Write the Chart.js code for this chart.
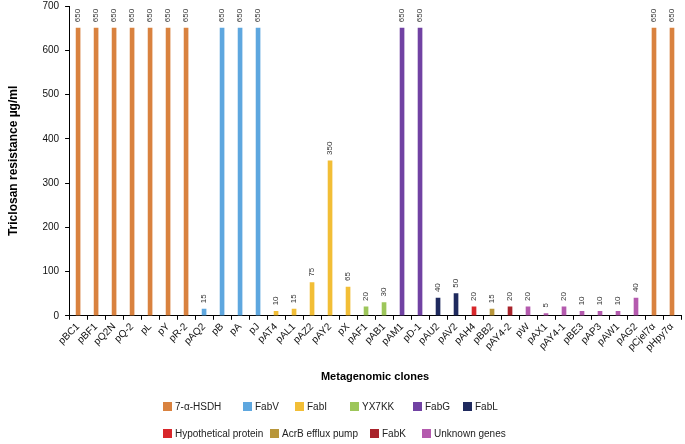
<!DOCTYPE html>
<html>
<head>
<meta charset="utf-8">
<script src="https://cdn.jsdelivr.net/npm/chart.js@4.4.1/dist/chart.umd.min.js"></script>
<style>
html,body{margin:0;padding:0;background:#fff;overflow:hidden;}
#wrap{position:relative;width:685px;height:444px;overflow:hidden;font-family:"Liberation Sans",Arial,sans-serif;}
canvas{position:absolute;left:0;top:-6px;}
.leg{position:absolute;font-size:10px;color:#222;display:flex;align-items:center;white-space:nowrap;}
.leg span.box{display:inline-block;width:9px;height:9px;margin-right:3px;}
</style>
</head>
<body>
<div id="wrap">
<canvas id="c" width="685" height="450"></canvas>
</div>
<script>
const categories = ["pBC1","pBF1","pQ2N","pQ-2","pL","pY","pR-2","pAQ2","pB","pA","pJ","pAT4","pAL1","pAZ2","pAY2","pX","pAF1","pAB1","pAM1","pD-1","pAU2","pAV2","pAH4","pBB2","pAY4-2","pW","pAX1","pAY4-1","pBE3","pAP3","pAW1","pAG2","pCjel7α","pHpy7α"];
const values = [650,650,650,650,650,650,650,15,650,650,650,10,15,75,350,65,20,30,650,650,40,50,20,15,20,20,5,20,10,10,10,40,650,650];
const genes = ["7-α-HSDH","7-α-HSDH","7-α-HSDH","7-α-HSDH","7-α-HSDH","7-α-HSDH","7-α-HSDH","FabV","FabV","FabV","FabV","FabI","FabI","FabI","FabI","FabI","YX7KK","YX7KK","FabG","FabG","FabL","FabL","Hypothetical protein","AcrB efflux pump","FabK","Unknown genes","Unknown genes","Unknown genes","Unknown genes","Unknown genes","Unknown genes","Unknown genes","7-α-HSDH","7-α-HSDH"];
const geneNames = ["7-α-HSDH","FabV","FabI","YX7KK","FabG","FabL","Hypothetical protein","AcrB efflux pump","FabK","Unknown genes"];
const geneColors = ["#D9823F","#5EA7DF","#F2BE36","#9DC65A","#7142A3","#1F2A5E","#D8262A","#B8963A","#A8232B","#B45AAE"];

const colorOf = g => geneColors[geneNames.indexOf(g)];

// HTML legend
const legendPos = [[163,407],[243,407],[295,407],[350,407],[413,407],[463,407],[163,434],[270,434],[370,434],[422,434]];
const wrap = document.getElementById('wrap');
geneNames.forEach((g,i)=>{
  const d = document.createElement('div');
  d.className='leg';
  d.style.left = legendPos[i][0]+'px';
  d.style.top = (legendPos[i][1]-6)+'px';
  d.innerHTML = '<span class="box" style="background:'+geneColors[i]+'"></span>'+g;
  wrap.appendChild(d);
});

const valueLabels = {
  id:'valueLabels',
  afterDatasetsDraw(chart){
    const ctx = chart.ctx;
    const meta = chart.getDatasetMeta(0);
    ctx.save();
    ctx.font = '8px "Liberation Sans", Arial, sans-serif';
    ctx.fillStyle = '#333';
    ctx.textAlign = 'left';
    ctx.textBaseline = 'middle';
    meta.data.forEach((bar,i)=>{
      ctx.save();
      ctx.translate(bar.x, bar.y - 6);
      ctx.rotate(-Math.PI/2);
      ctx.fillText(String(values[i]),0,0);
      ctx.restore();
    });
    ctx.restore();
  }
};

new Chart(document.getElementById('c'),{
  type:'bar',
  data:{
    labels:categories,
    datasets:[{
      data:values,
      backgroundColor:genes.map(colorOf),
      barThickness:4
    }]
  },
  options:{
    responsive:false,
    animation:false,
    layout:{padding:{left:6,right:4,top:0,bottom:60}},
    plugins:{legend:{display:false},tooltip:{enabled:false}},
    scales:{
      x:{
        offset:true,
        grid:{display:true,drawOnChartArea:false,offset:true,tickLength:4,color:'#000'},
        border:{display:true,color:'#000',width:1},
        ticks:{color:'#111',font:{size:10,family:'"Liberation Sans", Arial, sans-serif'},minRotation:45,maxRotation:45,autoSkip:false,padding:1},
        title:{display:true,text:'Metagenomic clones',color:'#000',font:{size:11,weight:'bold',family:'"Liberation Sans", Arial, sans-serif'},padding:{top:16,bottom:0}}
      },
      y:{
        min:0,max:700,
        grid:{display:true,drawOnChartArea:false,tickLength:4,color:'#000'},
        border:{display:true,color:'#000',width:1},
        ticks:{stepSize:100,color:'#111',font:{size:10,family:'"Liberation Sans", Arial, sans-serif'},padding:6},
        title:{display:true,text:'Triclosan resistance µg/ml',color:'#000',font:{size:12,weight:'bold',family:'"Liberation Sans", Arial, sans-serif'},padding:{top:0,bottom:16}}
      }
    }
  },
  plugins:[valueLabels]
});
</script>
</body>
</html>
